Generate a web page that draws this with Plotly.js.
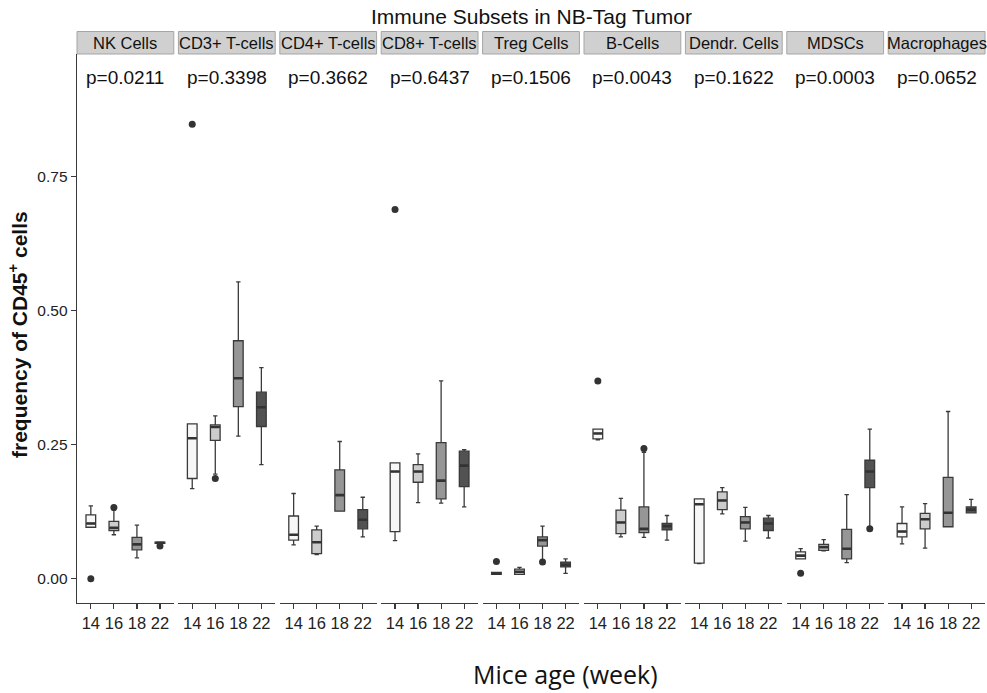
<!DOCTYPE html>
<html>
<head>
<meta charset="utf-8">
<script src="https://cdn.plot.ly/plotly-3.0.1.min.js"></script>
<style>html,body{margin:0;padding:0;background:#fff;}#chart{width:987px;height:693px;}</style>
</head>
<body>
<div id="chart"></div>
<script>
// ---- data ----
const panels = ["NK Cells","CD3+ T-cells","CD4+ T-cells","CD8+ T-cells","Treg Cells","B-Cells","Dendr. Cells","MDSCs","Macrophages"];
const ages = [14, 16, 18, 22];
const pvalues = ["p=0.0211","p=0.3398","p=0.3662","p=0.6437","p=0.1506","p=0.0043","p=0.1622","p=0.0003","p=0.0652"];

// per panel, per age (14,16,18,22)
const lowerFence = [
  [0.096,0.082,0.039,0.066],
  [0.168,0.195,0.266,0.213],
  [0.063,0.045,0.126,0.078],
  [0.071,0.142,0.141,0.134],
  [0.008,0.008,0.035,0.010],
  [0.259,0.078,0.077,0.072],
  [0.028,0.121,0.070,0.076],
  [0.037,0.052,0.030,0.097],
  [0.065,0.057,0.097,0.123]
];
const q1 = [
  [0.096,0.090,0.054,0.066],
  [0.187,0.258,0.321,0.284],
  [0.072,0.047,0.126,0.093],
  [0.088,0.180,0.149,0.172],
  [0.008,0.008,0.061,0.022],
  [0.261,0.084,0.086,0.091],
  [0.029,0.129,0.093,0.090],
  [0.037,0.053,0.037,0.170],
  [0.078,0.093,0.097,0.123]
];
const median = [
  [0.103,0.095,0.064,0.067],
  [0.262,0.283,0.374,0.320],
  [0.082,0.068,0.156,0.110],
  [0.200,0.200,0.183,0.211],
  [0.010,0.013,0.072,0.026],
  [0.271,0.105,0.093,0.098],
  [0.139,0.146,0.105,0.103],
  [0.043,0.059,0.056,0.200],
  [0.088,0.111,0.123,0.129]
];
const q3 = [
  [0.119,0.107,0.077,0.068],
  [0.289,0.287,0.444,0.348],
  [0.117,0.091,0.203,0.129],
  [0.216,0.213,0.254,0.238],
  [0.012,0.018,0.078,0.031],
  [0.279,0.128,0.134,0.103],
  [0.149,0.162,0.116,0.113],
  [0.050,0.064,0.092,0.221],
  [0.103,0.122,0.189,0.134]
];
const upperFence = [
  [0.136,0.128,0.100,0.068],
  [0.289,0.304,0.554,0.394],
  [0.159,0.098,0.256,0.152],
  [0.216,0.233,0.369,0.241],
  [0.012,0.021,0.098,0.037],
  [0.279,0.150,0.236,0.118],
  [0.149,0.170,0.133,0.118],
  [0.056,0.073,0.157,0.279],
  [0.134,0.140,0.312,0.148]
];
// outliers: panel index, age index, value
const outlierPanel = [0, 0, 0, 1, 1, 3, 4, 4, 5, 5, 7, 7];
const outlierAge   = [0, 1, 3, 0, 1, 0, 0, 2, 0, 2, 0, 3];
const outlierValue = [0.000, 0.133, 0.061, 0.848, 0.187, 0.689, 0.032, 0.031, 0.369, 0.243, 0.010, 0.093];

const fillColors = ["#F7F7F7","#CCCCCC","#969696","#525252"];

// ---- layout geometry ----
const W = 987, H = 693;
const mL = 77, mR = 2, mT = 54, mB = 90;
const plotW = W - mL - mR, plotH = H - mT - mB;
const gapPx = 4.6;
const panelW = (plotW - gapPx * (panels.length - 1)) / panels.length;
const FONT = "Liberation Sans, Arial, Helvetica, sans-serif";
const lineCol = "#3a3a3a";
const boxW = 0.42;

function axName(i, letter) { return i === 0 ? letter : letter + (i + 1); }
function pyPaper(px) { return (H - mB - px) / plotH; }
function pxPaper(px) { return (px - mL) / plotW; }

const traces = [];
const layout = {
  width: W, height: H,
  margin: {l: mL, r: mR, t: mT, b: mB, pad: 0},
  paper_bgcolor: "#fff", plot_bgcolor: "#fff",
  showlegend: false,
  font: {family: FONT, color: "#222"},
  yaxis: {
    range: [-0.0453, 0.979], anchor: "x",
    tickvals: [0, 0.25, 0.5, 0.75], ticktext: ["0.00","0.25","0.50","0.75"],
    ticks: "outside", ticklen: 5, tickwidth: 1.2, tickcolor: lineCol,
    showline: true, linecolor: lineCol, linewidth: 1.4,
    showgrid: false, zeroline: false,
    tickfont: {size: 15.5, color: "#222", family: FONT}
  },
  shapes: [], annotations: []
};

panels.forEach((name, p) => {
  const xa = axName(p, "x");
  const x0 = (p * (panelW + gapPx)) / plotW;
  const x1 = (p * (panelW + gapPx) + panelW) / plotW;
  layout[axName(p, "xaxis")] = {
    domain: [x0, Math.min(1, x1)], anchor: "y",
    range: [-0.6, 3.6],
    tickvals: ages.map((a, i) => i), ticktext: ages.map(String),
    ticks: "outside", ticklen: 5, tickwidth: 1.2, tickcolor: lineCol,
    showline: true, linecolor: lineCol, linewidth: 1.4,
    showgrid: false, zeroline: false,
    tickfont: {size: 16.5, color: "#222", family: FONT}
  };
  ages.forEach((a, i) => {
    traces.push({
      type: "box", xaxis: xa, yaxis: "y",
      x: [i],
      q1: [q1[p][i]], median: [median[p][i]], q3: [q3[p][i]],
      lowerfence: [lowerFence[p][i]], upperfence: [upperFence[p][i]],
      width: boxW, whiskerwidth: 0.45,
      fillcolor: fillColors[i],
      line: {color: lineCol, width: 1.3},
      boxpoints: false, hoverinfo: "skip"
    });
  });
  // thicker median segments
  const mx = [], my = [];
  ages.forEach((a, i) => {
    mx.push(i - boxW / 2 + 0.02, i + boxW / 2 - 0.02, null);
    my.push(median[p][i], median[p][i], null);
  });
  traces.push({type: "scatter", mode: "lines", xaxis: xa, yaxis: "y",
    x: mx, y: my, line: {color: "#333", width: 2.6}, hoverinfo: "skip"});
  // outliers
  const ox = [], oy = [];
  outlierPanel.forEach((op, k) => {
    if (op === p) { ox.push(outlierAge[k]); oy.push(outlierValue[k]); }
  });
  if (ox.length) {
    traces.push({type: "scatter", mode: "markers", xaxis: xa, yaxis: "y",
      x: ox, y: oy, marker: {color: "#333", size: 7}, hoverinfo: "skip"});
  }
  // strip
  layout.shapes.push({type: "rect", xref: xa + " domain", yref: "paper",
    x0: 0, x1: 1, y0: pyPaper(54), y1: pyPaper(31.5),
    fillcolor: "#D0D0D0", line: {color: "#A5A5A5", width: 1}, layer: "below"});
  layout.annotations.push({xref: xa + " domain", yref: "paper", x: 0.5, y: pyPaper(42.8),
    text: name, showarrow: false, xanchor: "center", yanchor: "middle",
    font: {size: 16.5, color: "#111", family: FONT}});
  // p-value
  layout.annotations.push({xref: xa + " domain", yref: "paper", x: 0.5, y: pyPaper(77),
    text: pvalues[p], showarrow: false, xanchor: "center", yanchor: "middle",
    font: {size: 19, color: "#111", family: FONT}});
});

// titles
layout.annotations.push({xref: "paper", yref: "paper", x: pxPaper(531), y: pyPaper(16),
  text: "Immune Subsets in NB-Tag Tumor", showarrow: false, xanchor: "center", yanchor: "middle",
  font: {size: 21, color: "#111", family: FONT}});
layout.annotations.push({xref: "paper", yref: "paper", x: pxPaper(18), y: pyPaper(335),
  text: "<b>frequency of CD45<sup>+</sup> cells</b>", showarrow: false, textangle: -90,
  xanchor: "center", yanchor: "middle",
  font: {size: 21, color: "#111", family: FONT}});
layout.annotations.push({xref: "paper", yref: "paper", x: pxPaper(565), y: pyPaper(674),
  text: "Mice age (week)", showarrow: false, xanchor: "center", yanchor: "middle",
  font: {size: 25, color: "#111", family: "Open Sans, Noto Sans, sans-serif"}});

Plotly.newPlot("chart", traces, layout, {staticPlot: true, displayModeBar: false});
</script>
</body>
</html>
